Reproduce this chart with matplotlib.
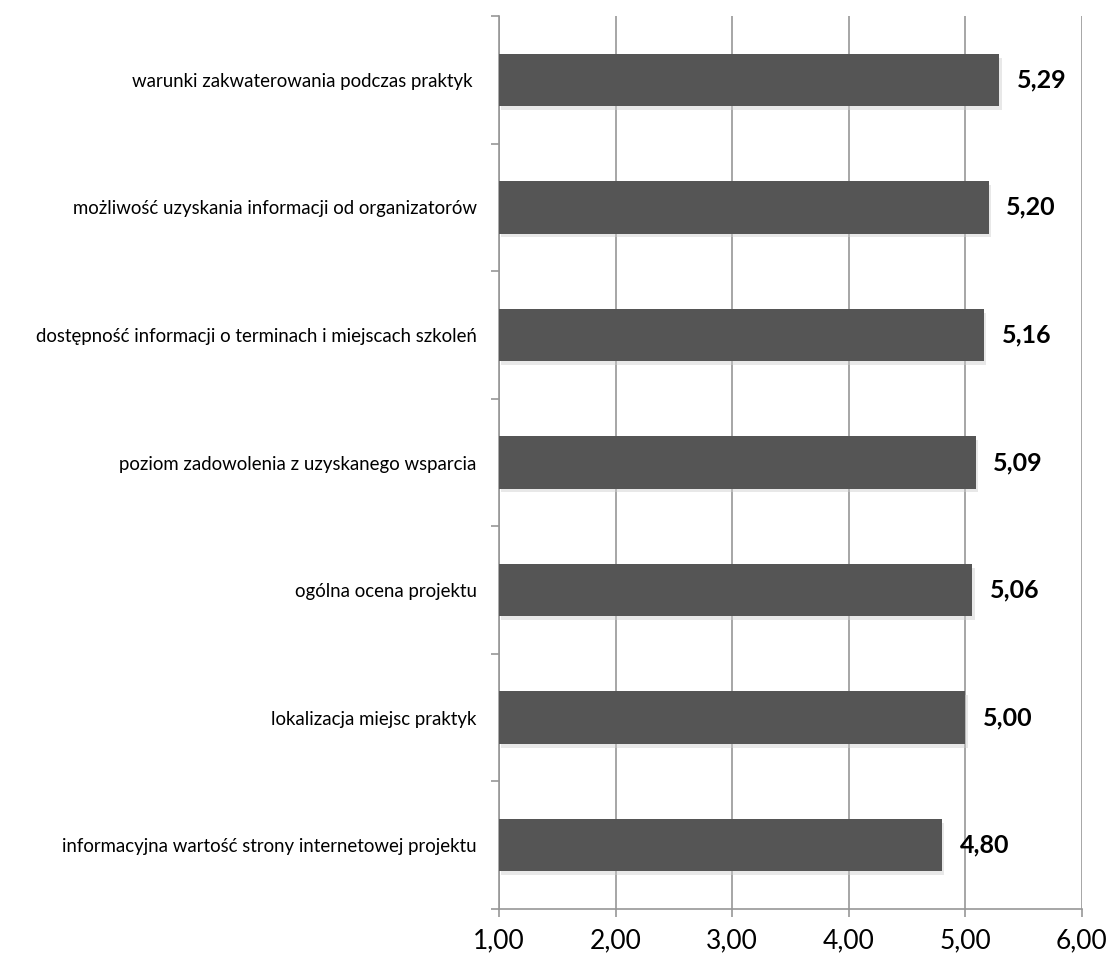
import matplotlib
matplotlib.use("Agg")
from matplotlib import pyplot as plt
import numpy as np

categories = [
    "informacyjna wartość strony internetowej projektu",
    "lokalizacja miejsc praktyk",
    "ogólna ocena projektu",
    "poziom zadowolenia z uzyskanego wsparcia",
    "dostępność informacji o terminach i miejscach szkoleń",
    "możliwość uzyskania informacji od organizatorów",
    "warunki zakwaterowania podczas praktyk ",
]
values = [4.80, 5.00, 5.06, 5.09, 5.16, 5.20, 5.29]
xticks = [1, 2, 3, 4, 5, 6]

plt.rcParams['font.family'] = ['Lato', 'DejaVu Sans']

fig = plt.figure(figsize=(11.07, 9.56), dpi=100)
ax = fig.add_axes([0.4508, 0.0492, 0.5266, 0.934])

y = np.arange(len(categories))
widths = np.array(values) - 1
# soft shadow behind bars
ax.barh(y - 0.03, widths, left=1.02, height=0.41,
        color='#cccccc', alpha=0.45, zorder=2)
ax.barh(y, widths, left=1, height=0.41, color='#555555', zorder=3)

for yi, v in zip(y, values):
    ax.text(v + 0.15, yi, f"{v:.2f}".replace('.', ','), va='center', ha='left',
            fontsize=18, fontweight='bold', color='black', zorder=4)

ax.set_xlim(1, 6)
ax.set_ylim(-0.5, len(categories) - 0.5)
ax.set_xticks(xticks)
ax.set_xticklabels([f"{t:.2f}".replace('.', ',') for t in xticks], fontsize=19)
ax.xaxis.grid(True, color='#979797', linewidth=1.2, zorder=0)
ax.set_axisbelow(True)

ax.set_yticks(np.arange(-0.5, len(categories), 1.0))
ax.set_yticklabels([])
ax.set_yticks(y, minor=True)
ax.set_yticklabels(categories, minor=True, fontsize=13.4)
ax.tick_params(axis='y', which='minor', length=0, pad=16)
ax.tick_params(axis='y', which='major', length=6, color='#979797', width=1.2)
ax.tick_params(axis='x', length=6, color='#979797', width=1.2, pad=8)

for side in ['top', 'right']:
    ax.spines[side].set_visible(False)
for side in ['left', 'bottom']:
    ax.spines[side].set_color('#979797')
    ax.spines[side].set_linewidth(1.2)

fig.savefig("out.png", dpi=100)
